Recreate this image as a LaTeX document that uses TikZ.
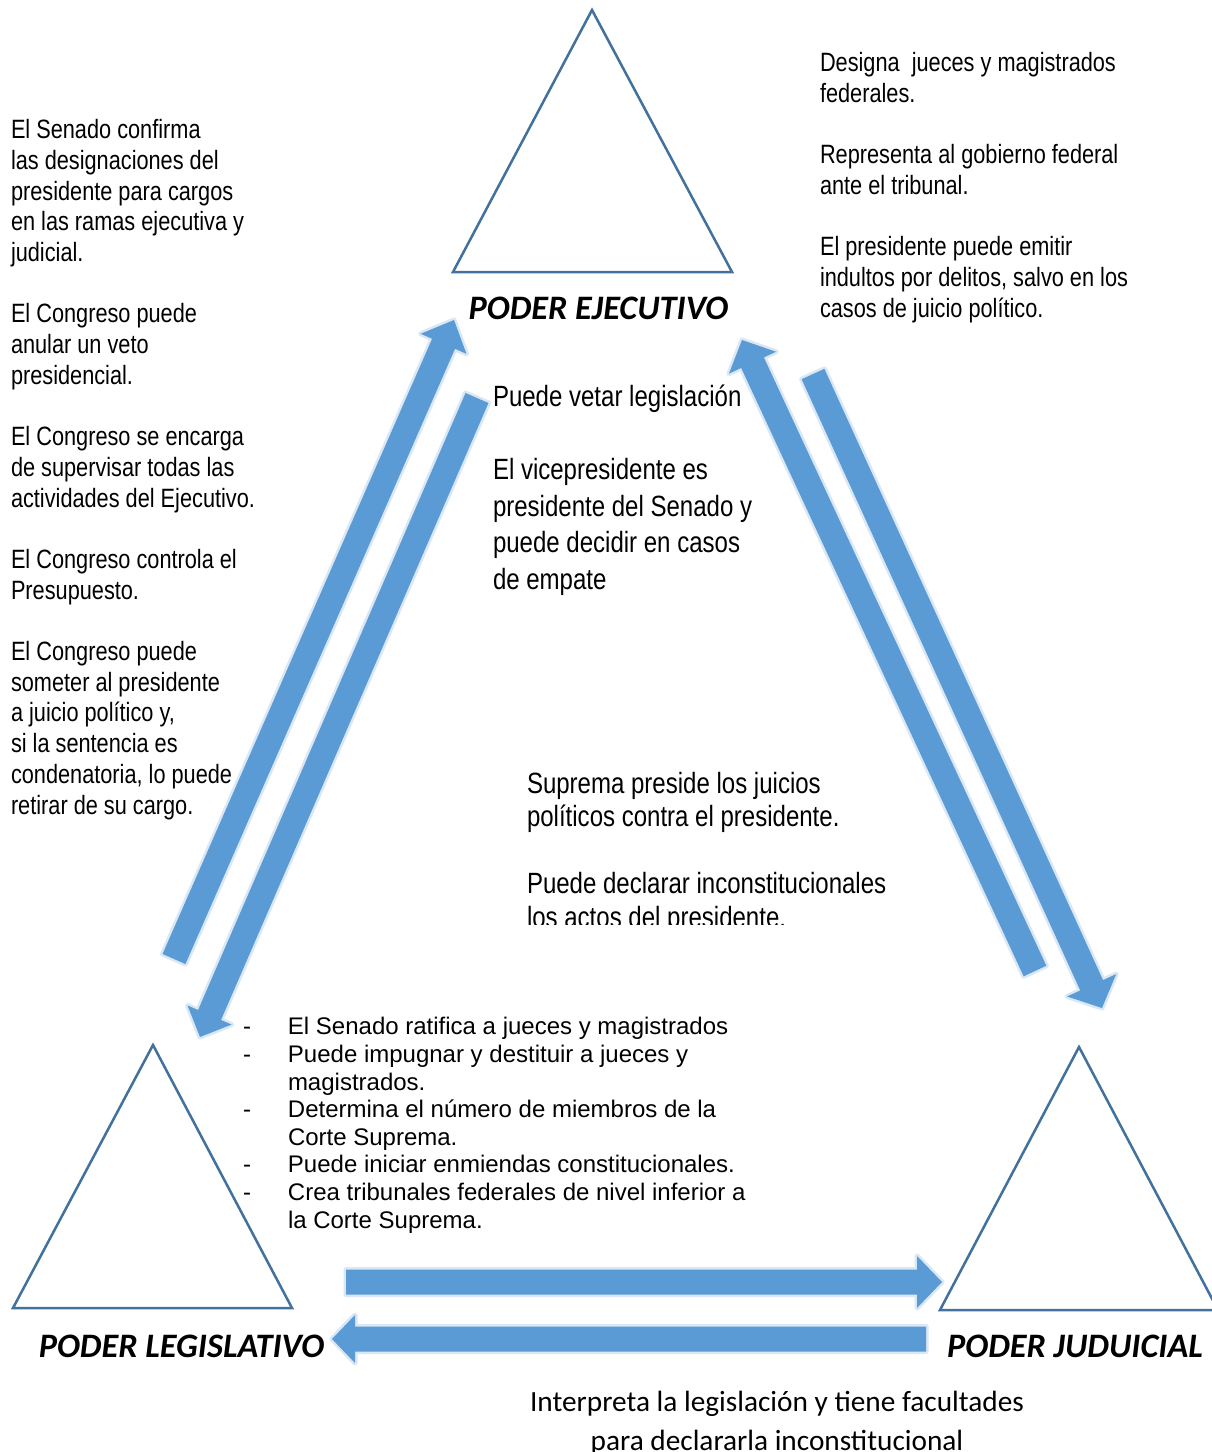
\documentclass[tikz,border=0pt]{standalone}
\usepackage{fontspec}
\setmainfont{Liberation Sans}
\newfontfamily\narrowfont[FakeStretch=0.82]{Liberation Sans}
\newfontfamily\calibrifont{Carlito}
\usetikzlibrary{calc}
\definecolor{arrowblue}{HTML}{5B9BD5}
\definecolor{glowblue}{HTML}{DAE7F5}
\definecolor{triblue}{HTML}{41719C}
\tikzset{
  blockarrowstyle/.style={fill=arrowblue, preaction={draw=glowblue, line width=5pt, line join=round}},
  tri/.style={draw=triblue, line width=2.5pt, line join=miter},
  txt/.style={inner sep=0pt, outer sep=0pt, anchor=base west, align=left},
  narrowsmall/.style={txt, font={\narrowfont\fontsize{26.5}{30.7}\selectfont}},
  heading/.style={inner sep=0pt, anchor=base, font={\calibrifont\bfseries\itshape\fontsize{34.3}{40}\selectfont}},
}
% #1 tail, #2 tip, #3 half body width, #4 half head width, #5 head length, #6 name
\newcommand{\blockarrow}[6]{%
  \coordinate (#6b) at ($(#2)!#5!(#1)$);
  \path[blockarrowstyle] ($(#1)!#3!90:(#2)$) -- ($(#6b)!#3!-90:(#1)$) -- ($(#6b)!#4!-90:(#1)$) -- (#2) -- ($(#6b)!#4!90:(#1)$) -- ($(#6b)!#3!90:(#1)$) -- ($(#1)!#3!-90:(#2)$) -- cycle;
}
\begin{document}
\begin{tikzpicture}[x=1pt,y=-1pt]
\useasboundingbox (0,0) rectangle (1212,1452);
\fill[white] (0,0) rectangle (1212,1452);

% triangles
\draw[tri] (592,10) -- (732,272) -- (453,272) -- cycle;
\draw[tri] (153,1045) -- (292,1308) -- (13,1308) -- cycle;
\draw[tri] (1079,1047) -- (1218,1310) -- (940,1310) -- cycle;

% headings
\node[heading] (ejec) at (598.5,319) {PODER EJECUTIVO};
\node[heading] (legis) at (181.5,1357) {PODER LEGISLATIVO};
\node[heading] (judi) at (1075,1357) {PODER JUDUICIAL};

% arrow end points
\coordinate (a1t) at (174,959);  \coordinate (a1h) at (454,320);
\coordinate (a2t) at (477,398);  \coordinate (a2h) at (200,1037);
\coordinate (a3t) at (1035,971); \coordinate (a3h) at (742,340);
\coordinate (a4t) at (813,374);  \coordinate (a4h) at (1102,1008);
\coordinate (a5t) at (346,1282); \coordinate (a5h) at (942,1282);
\coordinate (a6t) at (926,1339); \coordinate (a6h) at (332,1339);

\blockarrow{a1t}{a1h}{12.5pt}{25pt}{26pt}{a1}
\blockarrow{a2t}{a2h}{12.5pt}{24pt}{24pt}{a2}
\blockarrow{a3t}{a3h}{12.5pt}{26pt}{25pt}{a3}
\blockarrow{a4t}{a4h}{12.5pt}{27pt}{25pt}{a4}
\blockarrow{a5t}{a5h}{12.5pt}{26pt}{25pt}{a5}
\blockarrow{a6t}{a6h}{12.5pt}{24pt}{23pt}{a6}

% left text (position = baseline of last line)
\node[narrowsmall] (lefttext) at (11,814) {El Senado confirma\\las designaciones del\\presidente para cargos\\en las ramas ejecutiva y\\judicial.\\[30.7pt]El Congreso puede\\anular un veto\\presidencial.\\[30.7pt]El Congreso se encarga\\de supervisar todas las\\actividades del Ejecutivo.\\[30.7pt]El Congreso controla el\\Presupuesto.\\[30.7pt]El Congreso puede\\someter al presidente\\a juicio político y,\\si la sentencia es\\condenatoria, lo puede\\retirar de su cargo.};

% right top text
\node[narrowsmall] (righttext) at (820,317) {Designa\ \ jueces y magistrados\\federales.\\[30.7pt]Representa al gobierno federal\\ante el tribunal.\\[30.7pt]El presidente puede emitir\\indultos por delitos, salvo en los\\casos de juicio político.};

% middle text
\node[txt, font={\narrowfont\fontsize{29.3}{36.5}\selectfont}] (midtext) at (493,589) {Puede vetar legislación\\[36.5pt]El vicepresidente es\\presidente del Senado y\\puede decidir en casos\\de empate};

% lower middle text (clipped)
\begin{scope}
\clip (500,740) rectangle (1000,924);
\node[txt, font={\narrowfont\fontsize{29.3}{33.5}\selectfont}] (suptext) at (527,927) {Suprema preside los juicios\\políticos contra el presidente.\\[33.5pt]Puede declarar inconstitucionales\\los actos del presidente.};
\end{scope}

% bullet list
\node[txt, font={\fontsize{24}{27.6}\selectfont}] (bullets) at (243,1228) {%
\makebox[45pt][l]{-}El Senado ratifica a jueces y magistrados\\
\makebox[45pt][l]{-}Puede impugnar y destituir a jueces y\\
\hspace*{45pt}magistrados.\\
\makebox[45pt][l]{-}Determina el número de miembros de la\\
\hspace*{45pt}Corte Suprema.\\
\makebox[45pt][l]{-}Puede iniciar enmiendas constitucionales.\\
\makebox[45pt][l]{-}Crea tribunales federales de nivel inferior a\\
\hspace*{45pt}la Corte Suprema.};

% bottom text
\node[inner sep=0pt, anchor=base, align=center, font={\calibrifont\fontsize{29.3}{38.5}\selectfont}] (bottomtext) at (777,1450) {Interpreta la legislación y tiene facultades\\para declararla inconstitucional};
\end{tikzpicture}
\end{document}
